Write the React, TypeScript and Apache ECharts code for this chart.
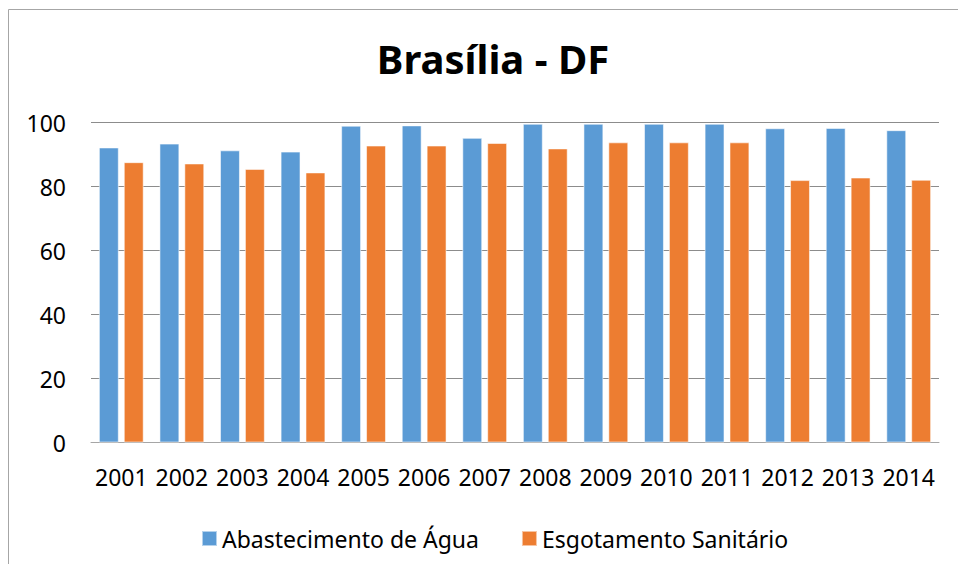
import React, { useEffect, useRef } from "react";
import * as echarts from "echarts";

const categories = ["2001", "2002", "2003", "2004", "2005", "2006", "2007", "2008", "2009", "2010", "2011", "2012", "2013", "2014"];
const abastecimento = [92.2, 93.4, 91.3, 90.9, 99.0, 99.1, 95.2, 99.6, 99.6, 99.6, 99.6, 98.2, 98.3, 97.6];
const esgotamento = [87.6, 87.2, 85.5, 84.4, 92.8, 92.8, 93.6, 91.9, 93.8, 93.8, 93.8, 82.0, 82.8, 82.1];
const seriesNames = ["Abastecimento de Água", "Esgotamento Sanitário"];
const titleText = "Brasília - DF";

const FONT = "'Noto Sans', 'Open Sans', sans-serif";

export default function App() {
  const ref = useRef<HTMLDivElement>(null);
  useEffect(() => {
    if (!ref.current) return;
    const chart = echarts.init(ref.current, null, { renderer: "svg" });
    chart.setOption({
      animation: false,
      backgroundColor: "#ffffff",
      textStyle: { fontFamily: FONT },
      title: {
        text: titleText,
        left: 488,
        textAlign: "center",
        top: 33,
        textStyle: { fontFamily: FONT, fontSize: 40, fontWeight: "bold", color: "#000" },
      },
      graphic: [
        {
          type: "rect",
          shape: { x: 8.5, y: 9.5, width: 1000, height: 1000 },
          style: { fill: "none", stroke: "#a6a6a6", lineWidth: 1 },
          silent: true,
        },
      ],
      legend: {
        left: 196,
        top: 522,
        itemWidth: 15,
        itemHeight: 15,
        itemGap: 42,
        icon: "rect",
        textStyle: { fontFamily: FONT, fontSize: 23, color: "#000" },
        data: seriesNames,
      },
      grid: { left: 91, right: 19, top: 122.5, bottom: 121.5, containLabel: false },
      xAxis: {
        type: "category",
        data: categories,
        axisLine: { show: true, lineStyle: { color: "#a6a6a6", width: 1 } },
        axisTick: { show: false },
        axisLabel: { fontFamily: FONT, fontSize: 23, color: "#000", margin: 23, interval: 0, hideOverlap: false },
      },
      yAxis: {
        type: "value",
        min: 0,
        max: 100,
        interval: 20,
        axisLine: { show: false },
        axisTick: { show: false },
        axisLabel: { fontFamily: FONT, fontSize: 23, color: "#000", margin: 25 },
        splitLine: { lineStyle: { color: "#8c8c8c", width: 1 } },
      },
      series: [
        {
          name: seriesNames[0],
          type: "bar",
          data: abastecimento,
          barGap: "25%",
          barCategoryGap: "26%",
          itemStyle: { color: "#5b9bd5", borderColor: "rgba(255,255,255,0.55)", borderWidth: 1 },
        },
        {
          name: seriesNames[1],
          type: "bar",
          data: esgotamento,
          barGap: "25%",
          barCategoryGap: "26%",
          itemStyle: { color: "#ed7d31", borderColor: "rgba(255,255,255,0.55)", borderWidth: 1 },
        },
      ],
    });
    return () => chart.dispose();
  }, []);
  return <div ref={ref} style={{ width: 958, height: 564, position: "absolute", left: 0, top: 0 }} />;
}
